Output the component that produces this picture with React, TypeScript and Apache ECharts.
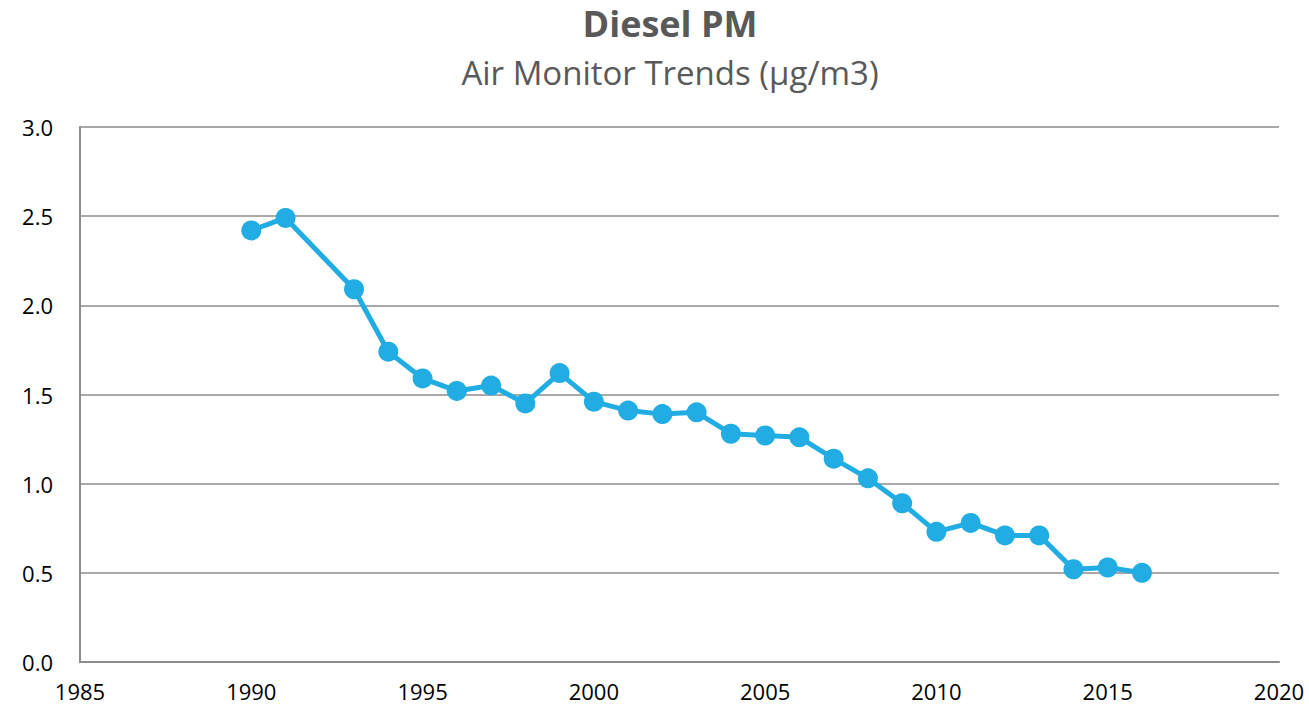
import React, { useEffect, useRef } from "react";
import * as echarts from "echarts";

const years = [1990, 1991, 1993, 1994, 1995, 1996, 1997, 1998, 1999, 2000, 2001, 2002, 2003, 2004, 2005, 2006, 2007, 2008, 2009, 2010, 2011, 2012, 2013, 2014, 2015, 2016];
const dieselPM = [2.42, 2.49, 2.09, 1.74, 1.59, 1.52, 1.55, 1.45, 1.62, 1.46, 1.41, 1.39, 1.40, 1.28, 1.27, 1.26, 1.14, 1.03, 0.89, 0.73, 0.78, 0.71, 0.71, 0.52, 0.53, 0.50];
const titleText = "Diesel PM";
const subtitleText = "Air Monitor Trends (µg/m3)";

export default function App() {
  const ref = useRef<HTMLDivElement>(null);
  useEffect(() => {
    if (!ref.current) return;
    const chart = echarts.init(ref.current, null, { renderer: "svg" });
    const font = "'Open Sans', sans-serif";
    chart.setOption({
      animation: false,
      backgroundColor: "#ffffff",
      title: {
        text: titleText,
        subtext: subtitleText,
        left: 665,
        textAlign: "center",
        top: 0,
        itemGap: 15,
        textStyle: { fontFamily: font, fontSize: 36, fontWeight: "bold", color: "#595959" },
        subtextStyle: { fontFamily: font, fontSize: 33, color: "#595959" },
      },
      grid: { left: 80, right: 30, top: 127, bottom: 49 },
      xAxis: {
        type: "value",
        min: 1985,
        max: 2020,
        interval: 5,
        axisLine: { show: true, lineStyle: { color: "#8c8c8c", width: 2 } },
        axisTick: { show: false },
        splitLine: { show: false },
        axisLabel: { fontFamily: font, fontSize: 22, color: "#000", margin: 18, formatter: (v: number) => String(v) },
      },
      yAxis: {
        type: "value",
        min: 0,
        max: 3,
        interval: 0.5,
        axisLine: { show: true, lineStyle: { color: "#8c8c8c", width: 2 } },
        axisTick: { show: false },
        splitLine: { show: true, lineStyle: { color: "#8c8c8c", width: 1.5 } },
        axisLabel: {
          fontFamily: font,
          fontSize: 22,
          color: "#000",
          margin: 27,
          formatter: (v: number) => v.toFixed(1),
        },
      },
      series: [
        {
          type: "line",
          data: years.map((y, i) => [y, dieselPM[i]]),
          symbol: "circle",
          symbolSize: 20,
          lineStyle: { color: "#21ade3", width: 5 },
          itemStyle: { color: "#21ade3" },
        },
      ],
    });
    return () => chart.dispose();
  }, []);
  return <div ref={ref} style={{ position: "fixed", left: 0, top: 0, width: 1309, height: 711 }} />;
}
